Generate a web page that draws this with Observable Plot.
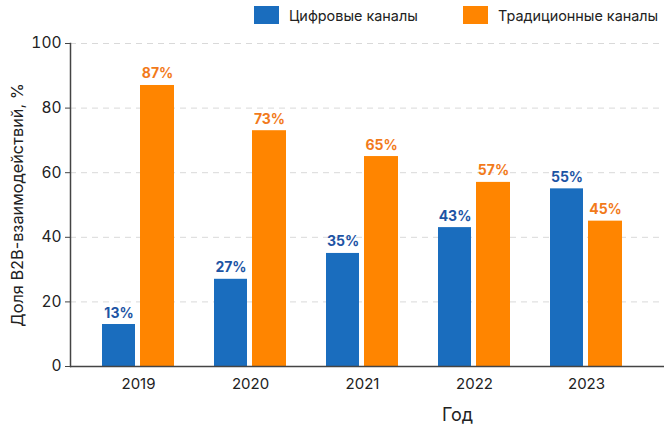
<!DOCTYPE html>
<html>
<head>
<meta charset="utf-8">
<script src="https://cdn.jsdelivr.net/npm/d3@7"></script>
<script src="https://cdn.jsdelivr.net/npm/@observablehq/plot@0.6"></script>
<style>
  html, body { margin: 0; padding: 0; background: #fff; }
  body { font-family: Inter, "Noto Sans", sans-serif; }
  #wrap { position: relative; width: 664px; height: 434px; }
  #legend { position: absolute; top: 6px; left: 0; width: 664px; height: 20px; z-index: 2; font: 14.4px Inter, sans-serif; color: #222; }
  .sw { display: inline-block; width: 25px; height: 18px; margin-right: 10px; flex: none; }
  .item { position: absolute; top: 0; display: flex; align-items: center; white-space: nowrap; }
</style>
</head>
<body>
<div id="wrap"><div id="legend"></div></div>
<script>
const years = ["2019", "2020", "2021", "2022", "2023"];
const digital = [13, 27, 35, 43, 55];
const traditional = [87, 73, 65, 57, 45];
const seriesNames = ["Цифровые каналы", "Традиционные каналы"];
const barColors = ["#1a6dbe", "#ff8500"];
const labelColors = ["#1d54a4", "#f27a1a"];
const yTicks = [0, 20, 40, 60, 80, 100];
const legendLeft = [254, 463];

const dataD = years.map((y, i) => ({year: y, value: digital[i]}));
const dataT = years.map((y, i) => ({year: y, value: traditional[i]}));

const legend = document.getElementById("legend");
seriesNames.forEach((n, i) => {
  const it = document.createElement("div");
  it.className = "item";
  it.style.left = legendLeft[i] + "px";
  it.innerHTML = `<span class="sw" style="background:${barColors[i]}"></span><span>${n}</span>`;
  legend.appendChild(it);
});

const chart = Plot.plot({
  width: 664,
  height: 434,
  marginTop: 43,
  marginBottom: 68,
  marginLeft: 70,
  marginRight: 0,
  style: {fontFamily: "Inter, sans-serif", color: "#222", background: "transparent"},
  x: {domain: years, range: [70, 654], paddingInner: 0.36, paddingOuter: 0.276},
  y: {domain: [0, 100], ticks: yTicks},
  marks: [
    Plot.gridY(yTicks.filter(d => d > 0), {stroke: "#d9d9d9", strokeOpacity: 1, strokeDasharray: "6,5"}),
    Plot.barY(dataD, {x: "year", y: "value", fill: barColors[0], insetRight: 39}),
    Plot.barY(dataT, {x: "year", y: "value", fill: barColors[1], insetLeft: 38}),
    Plot.text(dataD, {x: "year", y: "value", text: d => d.value + "%", dx: -19.5, dy: -7, lineAnchor: "bottom", fill: labelColors[0], fontWeight: "bold", fontSize: 14}),
    Plot.text(dataT, {x: "year", y: "value", text: d => d.value + "%", dx: 19, dy: -7, lineAnchor: "bottom", fill: labelColors[1], fontWeight: "bold", fontSize: 14}),
    Plot.axisY({ticks: yTicks, tickSize: 5, tickPadding: 4, fontSize: 15.5, stroke: "#444", label: null}),
    Plot.text(["Доля B2B-взаимодействий, %"], {frameAnchor: "left", textAnchor: "middle", dx: -53, rotate: -90, fontSize: 16.3, fill: "#222"}),
    Plot.axisX({tickSize: 0, tickPadding: 12, fontSize: 15, label: null}),
    Plot.frame({anchor: "left", stroke: "#444", strokeWidth: 1.5}),
    Plot.ruleY([0], {stroke: "#444", strokeWidth: 1.5}),
    Plot.text(["Год"], {frameAnchor: "bottom", dy: 54, dx: 90, fontSize: 18, fill: "#222"})
  ]
});
document.getElementById("wrap").appendChild(chart);
chart.style.position = "absolute";
chart.style.top = "0";
chart.style.left = "0";
</script>
</body>
</html>
